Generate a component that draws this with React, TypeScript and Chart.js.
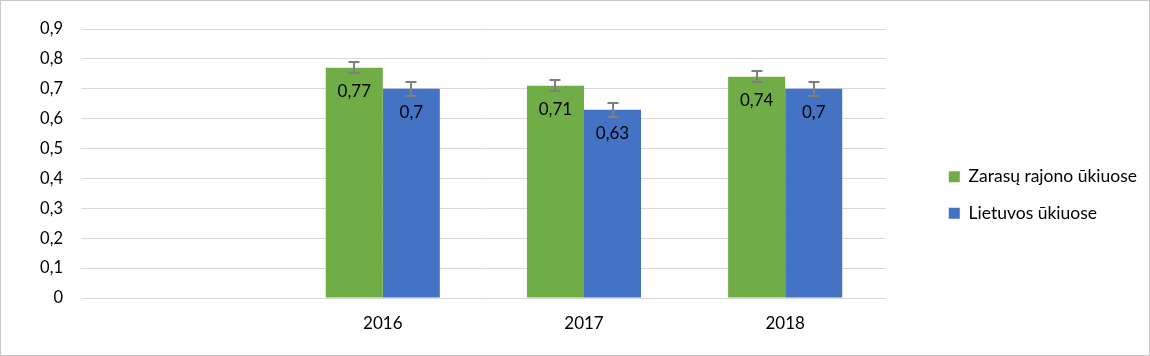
import React, { useEffect, useRef } from 'react';
import { Chart, registerables } from 'chart.js';

Chart.register(...registerables);

const categories = ['', '2016', '2017', '2018'];
const seriesNames = ['Zarasų rajono ūkiuose', 'Lietuvos ūkiuose'];
const zarasaiValues: (number | null)[] = [null, 0.77, 0.71, 0.74];
const lietuvaValues: (number | null)[] = [null, 0.7, 0.63, 0.7];
const zarasaiErrors: (number | null)[] = [null, 0.018, 0.018, 0.018];
const lietuvaErrors: (number | null)[] = [null, 0.024, 0.024, 0.024];
const yMin = 0;
const yMax = 0.9;
const yStep = 0.1;

const FONT = 'Lato, "Open Sans", sans-serif';

const fmt = (v: number) => (Math.round(v * 100) / 100).toString().replace('.', ',');

const errorBarsPlugin = {
  id: 'errorBarsAndLabels',
  afterDatasetsDraw(chart: any) {
    const ctx = chart.ctx;
    const yScale = chart.scales.y;
    chart.data.datasets.forEach((ds: any, di: number) => {
      const meta = chart.getDatasetMeta(di);
      if (meta.hidden) return;
      meta.data.forEach((bar: any, i: number) => {
        const v = ds.data[i];
        if (v == null) return;
        ctx.save();
        ctx.fillStyle = '#000';
        ctx.font = `17px ${FONT}`;
        ctx.textAlign = 'center';
        ctx.textBaseline = 'middle';
        ctx.fillText(fmt(v), bar.x, bar.y + 24);
        const e = ds.errors[i];
        if (e != null) {
          const top = Math.round(yScale.getPixelForValue(v + e));
          const bot = Math.round(yScale.getPixelForValue(v - e));
          const x = Math.round(bar.x);
          ctx.strokeStyle = '#7f7f7f';
          ctx.lineWidth = 2;
          ctx.beginPath();
          ctx.moveTo(x, top);
          ctx.lineTo(x, bot);
          ctx.moveTo(x - 5.5, top);
          ctx.lineTo(x + 5.5, top);
          ctx.moveTo(x - 5.5, bot);
          ctx.lineTo(x + 5.5, bot);
          ctx.stroke();
        }
        ctx.restore();
      });
    });
  },
};

function buildConfig(): any {
  return {
    type: 'bar',
    data: {
      labels: categories,
      datasets: [
        {
          label: seriesNames[0],
          data: zarasaiValues,
          backgroundColor: '#70ad47',
          borderWidth: 0,
          categoryPercentage: 0.567,
          barPercentage: 1,
          errors: zarasaiErrors,
        },
        {
          label: seriesNames[1],
          data: lietuvaValues,
          backgroundColor: '#4472c4',
          borderWidth: 0,
          categoryPercentage: 0.567,
          barPercentage: 1,
          errors: lietuvaErrors,
        },
      ],
    },
    options: {
      animation: false,
      responsive: true,
      maintainAspectRatio: false,
      layout: { padding: { top: 28, left: 0, right: 2, bottom: 0 } },
      plugins: {
        tooltip: { enabled: false },
        legend: {
          position: 'right',
          maxWidth: 300,
          title: { display: true, text: '', font: { size: 1 }, padding: { top: 5, bottom: 0 } },
          labels: {
            boxWidth: 11,
            boxHeight: 11,
            padding: 19,
            color: '#000',
            font: { size: 17.5, family: FONT },
          },
        },
      },
      scales: {
        x: {
          grid: { display: false, drawTicks: false },
          border: { display: false },
          ticks: { color: '#000', font: { size: 17, family: FONT }, padding: 15, maxRotation: 0 },
          afterFit: (s: any) => {
            s.height = 57;
          },
        },
        y: {
          min: yMin,
          max: yMax,
          grid: { color: '#d9d9d9', lineWidth: 1, drawTicks: false },
          border: { display: false },
          ticks: {
            stepSize: yStep,
            padding: 18,
            color: '#000',
            font: { size: 16.5, family: FONT },
            callback: (v: any) => (Number(v) === 0 ? '0' : Number(v).toFixed(1).replace('.', ',')),
          },
          afterFit: (s: any) => {
            s.width = 80;
          },
        },
        gap: {
          type: 'linear',
          position: 'right',
          display: true,
          grid: { display: false, drawTicks: false },
          border: { display: false },
          ticks: { display: false },
          afterFit: (s: any) => {
            s.width = 44;
          },
        },
      },
    },
    plugins: [errorBarsPlugin],
  };
}

export default function App() {
  const canvasRef = useRef<HTMLCanvasElement>(null);

  useEffect(() => {
    document.body.style.margin = '0';
    Chart.defaults.font.family = FONT;
    let chart: Chart | null = null;
    let cancelled = false;
    const make = () => {
      if (cancelled || !canvasRef.current) return;
      chart = new Chart(canvasRef.current, buildConfig());
    };
    const fontsApi: any = (document as any).fonts;
    if (fontsApi && fontsApi.load) {
      Promise.all([fontsApi.load('17.5px Lato', 'Zarasų rajono ūkiuose 0123456789,')])
        .catch(() => null)
        .then(make);
    } else {
      make();
    }
    return () => {
      cancelled = true;
      if (chart) chart.destroy();
    };
  }, []);

  return (
    <div
      style={{
        width: 1150,
        height: 356,
        border: '1px solid #c8c8c8',
        boxSizing: 'border-box',
        background: '#fff',
        position: 'relative',
      }}
    >
      <div style={{ width: 1148, height: 354, position: 'relative' }}>
        <canvas ref={canvasRef} />
      </div>
    </div>
  );
}
